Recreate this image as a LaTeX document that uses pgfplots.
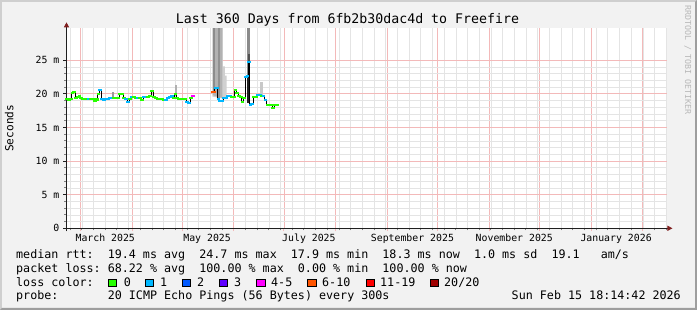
\documentclass[border=0pt]{standalone}
\usepackage{fontspec}
\setmainfont{DejaVu Sans Mono}
\usepackage{pgfplots}
\pgfplotsset{compat=1.18}
\usepackage{pgfplotstable}
\usetikzlibrary{arrows.meta,backgrounds}
\definecolor{bgc}{rgb}{0.95,0.95,0.95}
\definecolor{shadeA}{rgb}{0.81,0.81,0.81}
\definecolor{shadeB}{rgb}{0.62,0.62,0.62}
\definecolor{majgrid}{RGB}{243,185,185}
\definecolor{mingrid}{RGB}{228,228,228}
\definecolor{axiscol}{rgb}{0.12,0.12,0.12}
\definecolor{arrowc}{rgb}{0.5,0.12,0.12}
\definecolor{wm}{rgb}{0.72,0.72,0.72}
\definecolor{c0}{HTML}{26FF00}
\definecolor{c1}{HTML}{00B8FF}
\definecolor{c2}{HTML}{0059FF}
\definecolor{c3}{HTML}{5E00FF}
\definecolor{c45}{HTML}{FF00FF}
\definecolor{c610}{HTML}{FF5500}
\definecolor{c1119}{HTML}{FF0000}
\definecolor{c20}{HTML}{A00000}
\newcommand\axf{\fontsize{9.85}{10}\selectfont}
\newcommand\lgf{\fontsize{11.7}{12}\selectfont}
\newcommand\ttf{\fontsize{13.25}{14}\selectfont}

\pgfplotstableread{
x y c
51.06 19.20 g
52.26 19.17 g
53.46 19.20 g
54.35 20.13 g
55.25 20.33 g
56.45 19.35 g
57.65 19.54 g
58.55 19.69 g
59.45 19.35 g
60.64 19.29 g
61.84 19.24 g
63.04 19.24 g
64.24 19.24 b
65.44 19.29 g
66.64 19.24 g
67.83 19.02 g
69.03 19.17 g
69.93 19.99 g
70.83 20.58 b
72.03 19.24 b
73.22 19.17 b
74.42 19.24 b
75.62 19.29 b
76.82 19.39 b
78.02 19.43 b
79.21 19.39 g
80.41 19.43 g
81.61 19.35 g
82.81 19.94 g
84.01 19.94 g
85.21 19.35 g
86.40 19.29 b
87.60 18.75 b
88.80 19.24 g
90.00 19.58 b
91.20 19.54 g
92.39 19.43 g
93.59 19.35 b
94.79 19.35 g
95.99 19.05 g
97.19 19.54 b
98.38 19.58 b
99.58 19.49 g
100.78 19.64 g
101.98 20.48 g
103.18 19.49 g
104.37 19.35 g
105.57 19.29 g
106.77 19.24 g
107.97 19.24 g
109.17 19.14 g
110.36 19.14 b
111.56 19.43 b
112.76 19.58 b
113.96 19.73 b
115.16 19.43 g
116.05 19.99 g
116.95 19.39 g
118.15 19.29 g
119.35 19.29 g
120.55 19.24 g
121.74 19.20 g
122.94 18.75 b
124.14 18.69 b
125.34 19.35 g
126.54 19.69 m
nan nan g
138.21 20.33 o
139.11 20.33 o
140.01 20.88 b
140.91 20.88 b
141.81 19.24 b
142.71 18.94 b
143.91 18.94 b
145.10 19.35 b
146.30 19.35 b
147.50 19.69 b
148.70 19.69 b
149.90 19.49 g
151.09 19.49 g
151.99 20.58 g
152.89 20.18 g
154.09 19.69 g
155.29 19.54 g
156.18 18.84 g
157.08 19.43 g
158.28 22.51 b
159.18 22.71 b
160.08 24.70 b
160.98 18.35 b
161.87 18.50 b
163.07 19.58 g
164.27 19.58 g
165.47 19.84 b
166.67 19.84 b
167.86 19.69 g
168.76 19.69 b
169.96 19.09 b
171.16 18.35 g
172.36 18.35 g
173.55 18.35 g
174.45 17.95 g
175.65 18.35 g
176.85 18.30 g
}\med

\begin{document}
\begin{tikzpicture}[x=1pt,y=1pt]
\begin{axis}[
  scale only axis, width=601pt, height=200pt,
  xmin=50.76, xmax=410.76, ymin=0, ymax=29.76,
  axis background/.style={fill=white},
  axis lines=left,
  axis line style={draw=axiscol, line width=1pt},
  x axis line style={-{Triangle[length=5pt,width=5pt,color=arrowc]}, shorten >=-5pt, shorten <=-3pt},
  y axis line style={-{Triangle[length=5pt,width=5pt,color=arrowc]}, shorten >=-6pt, shorten <=-3pt},
  tick align=outside,
  xtick={59,90,120,151,181,212,243,273,304,334,365,396},
  xticklabels={March 2025,,May 2025,,July 2025,,September 2025,,November 2025,,January 2026,},
  minor xtick={53,60,...,410},
  ytick={0,5,10,15,20,25},
  yticklabels={0,5 m,10 m,15 m,20 m,25 m},
  minor y tick num=4,
  grid=both,
  major grid style={draw=majgrid, line width=0.8pt, solid},
  minor grid style={draw=mingrid, line width=0.7pt, solid},
  major tick length=3pt, minor tick length=2pt,
  minor tick style={draw=gray, line width=1pt},
  major x tick style={draw=majgrid, line width=1pt},
  major y tick style={draw=axiscol, line width=1pt},
  ticklabel style={font=\axf, inner sep=0pt},
  xticklabel style={anchor=base, yshift=-10pt, xshift=25pt},
  yticklabel style={anchor=east, xshift=-4pt},
  unbounded coords=jump,
]
% smoke
\addplot[fill={rgb,255:red,208;green,208;blue,208}, draw=none] coordinates {(138.2,19.6) (138.2,30) (144.3,30) (144.3,24.1) (145.7,24.1) (145.7,22.7) (146.7,22.7) (146.7,19.2)} -- cycle;
\addplot[fill={rgb,255:red,178;green,178;blue,178}, draw=none] coordinates {(138.4,19.8) (138.4,30) (144.1,30) (144.1,19.4)} -- cycle;
\addplot[fill={rgb,255:red,140;green,140;blue,140}, draw=none] coordinates {(138.6,20.4) (138.6,30) (139.7,30) (139.7,20.4)} -- cycle;
\addplot[fill={rgb,255:red,145;green,145;blue,145}, draw=none] coordinates {(141.6,19.4) (141.6,30) (142.7,30) (142.7,19.4)} -- cycle;
\addplot[fill={rgb,255:red,138;green,138;blue,138}, draw=none] coordinates {(158.6,19.5) (158.6,30) (160.7,30) (160.7,19.5)} -- cycle;
\addplot[fill={rgb,255:red,80;green,80;blue,80}, draw=none] coordinates {(159.2,19.0) (159.2,26) (160.4,26) (160.4,19.0)} -- cycle;
\addplot[fill={rgb,255:red,32;green,32;blue,32}, draw=none] coordinates {(158.9,18.6) (158.9,22.8) (159.9,22.8) (159.9,18.6)} -- cycle;
\addplot[fill={rgb,255:red,154;green,154;blue,154}, draw=none] coordinates {(78.3,19.5) (78.3,20.3) (79.5,20.3) (79.5,19.5)} -- cycle;
\addplot[fill={rgb,255:red,176;green,176;blue,176}, draw=none] coordinates {(115.75,19.7) (115.75,21.3) (116.95,21.3) (116.95,19.7)} -- cycle;
\addplot[fill={rgb,255:red,200;green,200;blue,200}, draw=none] coordinates {(166.67,19.5) (166.67,21.7) (168.76,21.7) (168.76,19.5)} -- cycle;
% median
\addplot[black, line width=0.8pt, const plot mark mid] table[x=x, y=y] {\med};
\addplot[scatter, only marks, scatter src=explicit symbolic,
  mark options={line width=2.3pt}, mark size=1.7pt,
  scatter/classes={
    g={mark=-, draw=c0},
    b={mark=-, draw=c1},
    o={mark=-, draw=c610},
    m={mark=-, draw=c45}}]
  table[x=x, y=y, meta=c] {\med};
\coordinate (O) at (rel axis cs:0,0);
\end{axis}

\begin{scope}[shift={(O)}]
\begin{scope}[shift={(-66.5,-81.7)}]
\begin{scope}[on background layer]
\fill[bgc] (0,0) rectangle (697,310);
\fill[shadeA] (0,310) -- (697,310) -- (695,308) -- (2,308) -- (2,2) -- (0,0) -- cycle;
\fill[shadeB] (0,0) -- (697,0) -- (697,310) -- (695,308) -- (695,2) -- (2,2) -- cycle;
\end{scope}
\node[anchor=base, inner sep=0pt, font=\ttf] at (347.5,286) {Last~360~Days~from~6fb2b30dac4d~to~Freefire};
\node[anchor=base, rotate=90, inner sep=0pt, font=\fontsize{11.1}{12}\selectfont] at (13.3,181.7) {Seconds};
\node[anchor=base, rotate=-90, inner sep=0pt, font=\fontsize{8.3}{9}\selectfont, text=wm] at (685,250) {RRDTOOL~/~TOBI~OETIKER};

\begin{scope}[every node/.style={anchor=base west, inner sep=0pt, font=\lgf}]
\node at (16,51.7) {median~rtt:~~19.4~ms~avg~~24.7~ms~max~~17.9~ms~min~~18.3~ms~now~~1.0~ms~sd~~19.1~~~am/s};
\node at (16,37.7) {packet~loss:~68.22~\%~avg~~100.00~\%~max~~0.00~\%~min~~100.00~\%~now};
\node at (16,23.7) {loss~color:};
\node at (123.6,23.7) {0};
\node at (160,23.7) {1};
\node at (197,23.7) {2};
\node at (234,23.7) {3};
\node at (271,23.7) {4-5};
\node at (322,23.7) {6-10};
\node at (380,23.7) {11-19};
\node at (444,23.7) {20/20};
\node at (16,10) {probe:};
\node at (107.6,10) {20~ICMP~Echo~Pings~(56~Bytes)~every~300s};
\node[anchor=base east] at (681,10) {Sun~Feb~15~18:14:42~2026};
\end{scope}
\foreach \bx/\bc in {108/c0,145.3/c1,182/c2,219/c3,256.4/c45,307.6/c610,365.8/c1119,429.8/c20}{
  \filldraw[fill=\bc, draw=black, line width=0.6pt] (\bx,23.2) rectangle ++(8.4,7.8);
}
\useasboundingbox (0,0) rectangle (697,310);
\end{scope}
\end{scope}
\end{tikzpicture}
\end{document}
